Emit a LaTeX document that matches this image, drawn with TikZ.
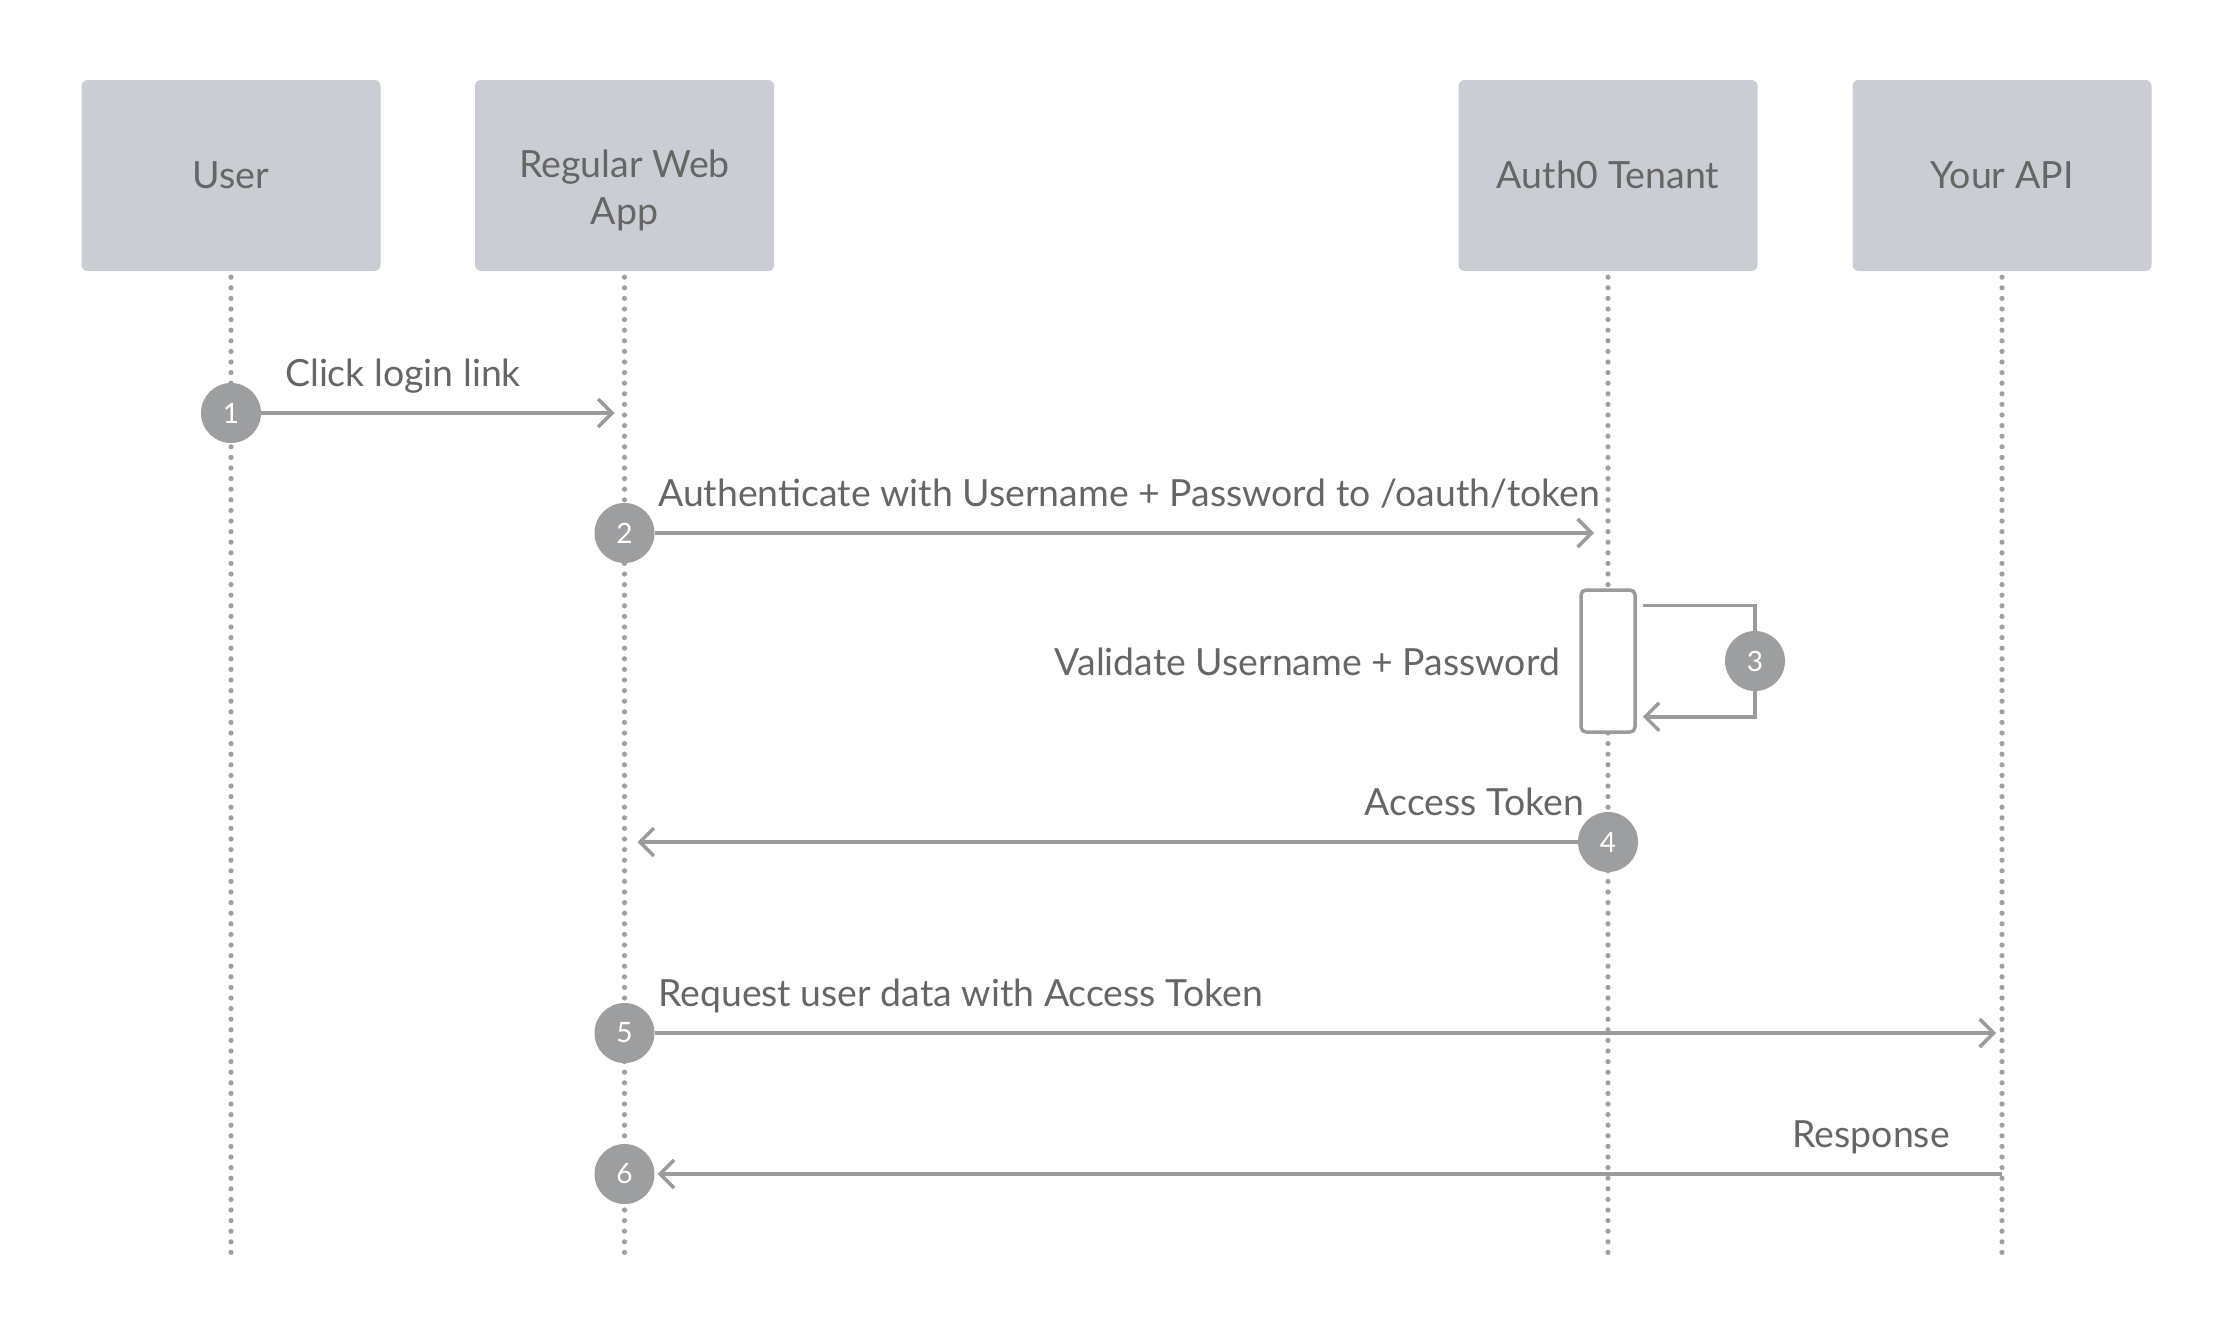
\documentclass[tikz,border=0pt]{standalone}
\usepackage{fontspec}
\setmainfont{Lato}
\usetikzlibrary{arrows.meta,calc}
\definecolor{boxfill}{HTML}{CACDD4}
\definecolor{txt}{HTML}{666666}
\definecolor{ln}{HTML}{9B9B9B}
\definecolor{dotc}{HTML}{A0A0A0}
\definecolor{circ}{HTML}{9D9EA0}
\begin{document}
\begin{tikzpicture}[x=1pt,y=-1pt,
 actor/.style={fill=boxfill, draw=none, rounded corners=6pt, minimum width=299pt, minimum height=191pt, inner sep=0pt},
 actortext/.style={text=txt, font=\fontsize{37.5}{47}\selectfont, align=center, inner sep=0pt},
 lifeline/.style={draw=dotc, line width=5.2pt, line cap=round, dash pattern=on 0pt off 10.6pt},
 msg/.style={draw=ln, line width=3.5pt, -{Straight Barb[length=14pt,width=28pt]}},
 msgline/.style={draw=ln, line width=3.5pt},
 stepnum/.style={circle, fill=circ, minimum size=60pt, inner sep=0pt, text=white, font=\fontsize{28}{28}\selectfont},
 msglabel/.style={text=txt, font=\fontsize{37.4}{46}\selectfont, inner sep=0pt},
 actbox/.style={draw=ln, line width=3.5pt, fill=white, rounded corners=5pt, minimum width=54pt, minimum height=142pt, inner sep=0pt}
]
\useasboundingbox (0,0) rectangle (2234,1330);
% actors
\node[actor] (user) at (231,175.5) {};
\node[actor] (rwa)  at (624.5,175.5) {};
\node[actor] (auth) at (1608,175.5) {};
\node[actor] (api)  at (2002,175.5) {};
\node[actortext, anchor=base] (usert) at (231,188) {User};
\node[actortext, anchor=base] (rwat) at (624.5,224) {Regular Web\\App};
\node[actortext, anchor=base] (autht) at (1608,188) {Auth0 Tenant};
\node[actortext, anchor=base] (apit) at (2002,188) {Your API};
% lifelines
\coordinate (bottom) at (0,1260);
\draw[lifeline] ([yshift=-6pt]user.south) -- (user.south |- bottom);
\draw[lifeline] ([yshift=-6pt]rwa.south) -- (rwa.south |- bottom);
\draw[lifeline] ([yshift=-6pt]auth.south) -- (auth.south |- bottom);
\draw[lifeline] ([yshift=-6pt]api.south) -- (api.south |- bottom);
% activation
\node[actbox] (act) at (1608,661) {};
% step circles
\node[stepnum] (c1) at (231,413) {1};
\node[stepnum] (c2) at (624.5,533) {2};
\node[stepnum] (c3) at (1755,661) {3};
\node[stepnum] (c4) at (1608,842) {4};
\node[stepnum] (c5) at (624.5,1033) {5};
\node[stepnum] (c6) at (624.5,1174) {6};
% messages
\draw[msg] (c1.east) -- ($(c1 -| rwa)+(-10,0)$);
\draw[msg] (c2.east) -- ($(c2 -| auth)+(-14,0)$);
\draw[msgline] ([xshift=6pt,yshift=-17pt]act.north east) -| (c3.north);
\draw[msg] (c3.south) |- ([xshift=6pt,yshift=17pt]act.south east);
\draw[msg] (c4.west) -- ($(c4 -| rwa)+(13,0)$);
\draw[msg] (c5.east) -- ($(c5 -| api)+(-6,0)$);
\draw[msg, shorten >=3pt] (c6 -| api) -- (c6.east);
% labels
\node[msglabel, anchor=base west] (l1) at (285,386) {Click login link};
\node[msglabel, anchor=base west] (l2) at (658,506) {Authenticate with Username + Password to /oauth/token};
\node[msglabel, anchor=base east] (l3) at (1560,675) {Validate Username + Password};
\node[msglabel, anchor=base east] (l4) at (1584,815) {Access Token};
\node[msglabel, anchor=base west] (l5) at (658,1006) {Request user data with Access Token};
\node[msglabel, anchor=base east] (l6) at (1950,1147) {Response};
\end{tikzpicture}
\end{document}
